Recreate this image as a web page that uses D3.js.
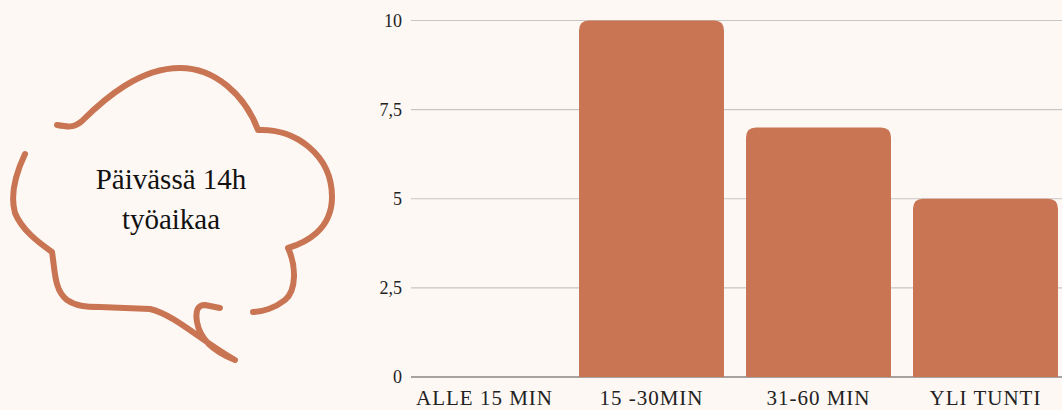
<!DOCTYPE html>
<html>
<head>
<meta charset="utf-8">
<script src="https://cdn.jsdelivr.net/npm/d3@7"></script>
<style>
  html, body { margin: 0; padding: 0; background: #fdf8f4; }
  svg { display: block; font-family: "Liberation Serif", serif; }
</style>
</head>
<body>
<div id="viz"></div>
<script>
// data
const categories = ['ALLE 15 MIN', '15 -30MIN', '31-60 MIN', 'YLI TUNTI'];
const values = [0, 10, 7, 5];
const yTicks = [0, 2.5, 5, 7.5, 10];
const bubbleLines = ['Päivässä 14h', 'työaikaa'];

const accent = '#c97553';

const dimensions = { width: 1062, height: 410 };

const svg = d3.select('#viz')
  .append('svg')
    .attr('width', dimensions.width)
    .attr('height', dimensions.height);

svg.append('rect')
  .attr('width', dimensions.width)
  .attr('height', dimensions.height)
  .attr('fill', '#fdf8f4');

// scales
const xScale = d3.scaleBand()
  .domain(categories)
  .range([401, 1069])
  .paddingInner(0.132)
  .paddingOuter(0.066);

const yScale = d3.scaleLinear()
  .domain([0, 10])
  .range([377, 20.5]);

// gridlines
const grid = svg.append('g').attr('class', 'grid');
grid.selectAll('line')
  .data(yTicks)
  .join('line')
    .attr('x1', 411)
    .attr('x2', 1062)
    .attr('y1', d => yScale(d))
    .attr('y2', d => yScale(d))
    .attr('stroke', d => d === 0 ? '#8a8684' : '#c9c5c2')
    .attr('stroke-width', d => d === 0 ? 1.5 : 1.2);

// y labels
const fmt = d => String(d).replace('.', ',');
svg.append('g')
  .selectAll('text')
  .data(yTicks)
  .join('text')
    .attr('x', 402)
    .attr('y', d => yScale(d) + 6)
    .attr('text-anchor', 'end')
    .attr('font-size', 18)
    .attr('fill', '#222')
    .text(fmt);

// bars, rounded top corners only
const r = 10;
const barPath = d => {
  const x0 = xScale(d.cat), w = xScale.bandwidth();
  const y0 = yScale(d.value), y1 = yScale(0);
  if (y1 - y0 <= 0) return null;
  const rr = Math.min(r, (y1 - y0));
  return `M${x0},${y1} L${x0},${y0 + rr} Q${x0},${y0} ${x0 + rr},${y0} ` +
    `L${x0 + w - rr},${y0} Q${x0 + w},${y0} ${x0 + w},${y0 + rr} L${x0 + w},${y1} Z`;
};
svg.append('g')
  .selectAll('path')
  .data(categories.map((c, i) => ({ cat: c, value: values[i] })).filter(d => d.value > 0))
  .join('path')
    .attr('d', barPath)
    .attr('fill', accent);

// x labels
svg.append('g')
  .selectAll('text')
  .data(categories)
  .join('text')
    .attr('x', d => xScale(d) + xScale.bandwidth() / 2)
    .attr('y', 405)
    .attr('text-anchor', 'middle')
    .attr('font-size', 21)
    .attr('letter-spacing', 1)
    .attr('fill', '#222')
    .text(d => d);

// speech bubble (decoration)
const bubble = svg.append('g')
  .attr('fill', 'none')
  .attr('stroke', accent)
  .attr('stroke-width', 6)
  .attr('stroke-linecap', 'round')
  .attr('stroke-linejoin', 'round');

bubble.append('path')
  .attr('d', 'M57,125 C68,127 74,128 82,121 C105,98 140,68 180,68 ' +
    'C215,68 245,95 258,130 C295,128 332,155 332,197 C332,230 305,243 288,248 ' +
    'C296,265 297,290 285,300 C275,308 262,312 253,312');

bubble.append('path')
  .attr('d', 'M25,154 C15,175 10,195 15,213 C22,230 38,242 52,252 ' +
    'C55,270 54,290 67,300 C76,306 85,307 100,307 L150,309 ' +
    'C175,315 200,340 235,360 C215,352 200,340 197,322 C195,310 198,305 205,305 L220,308');

svg.append('g')
  .selectAll('text')
  .data(bubbleLines)
  .join('text')
    .attr('x', 171)
    .attr('y', (d, i) => 189 + i * 40)
    .attr('text-anchor', 'middle')
    .attr('font-size', 29)
    .attr('fill', '#111')
    .text(d => d);
</script>
</body>
</html>
